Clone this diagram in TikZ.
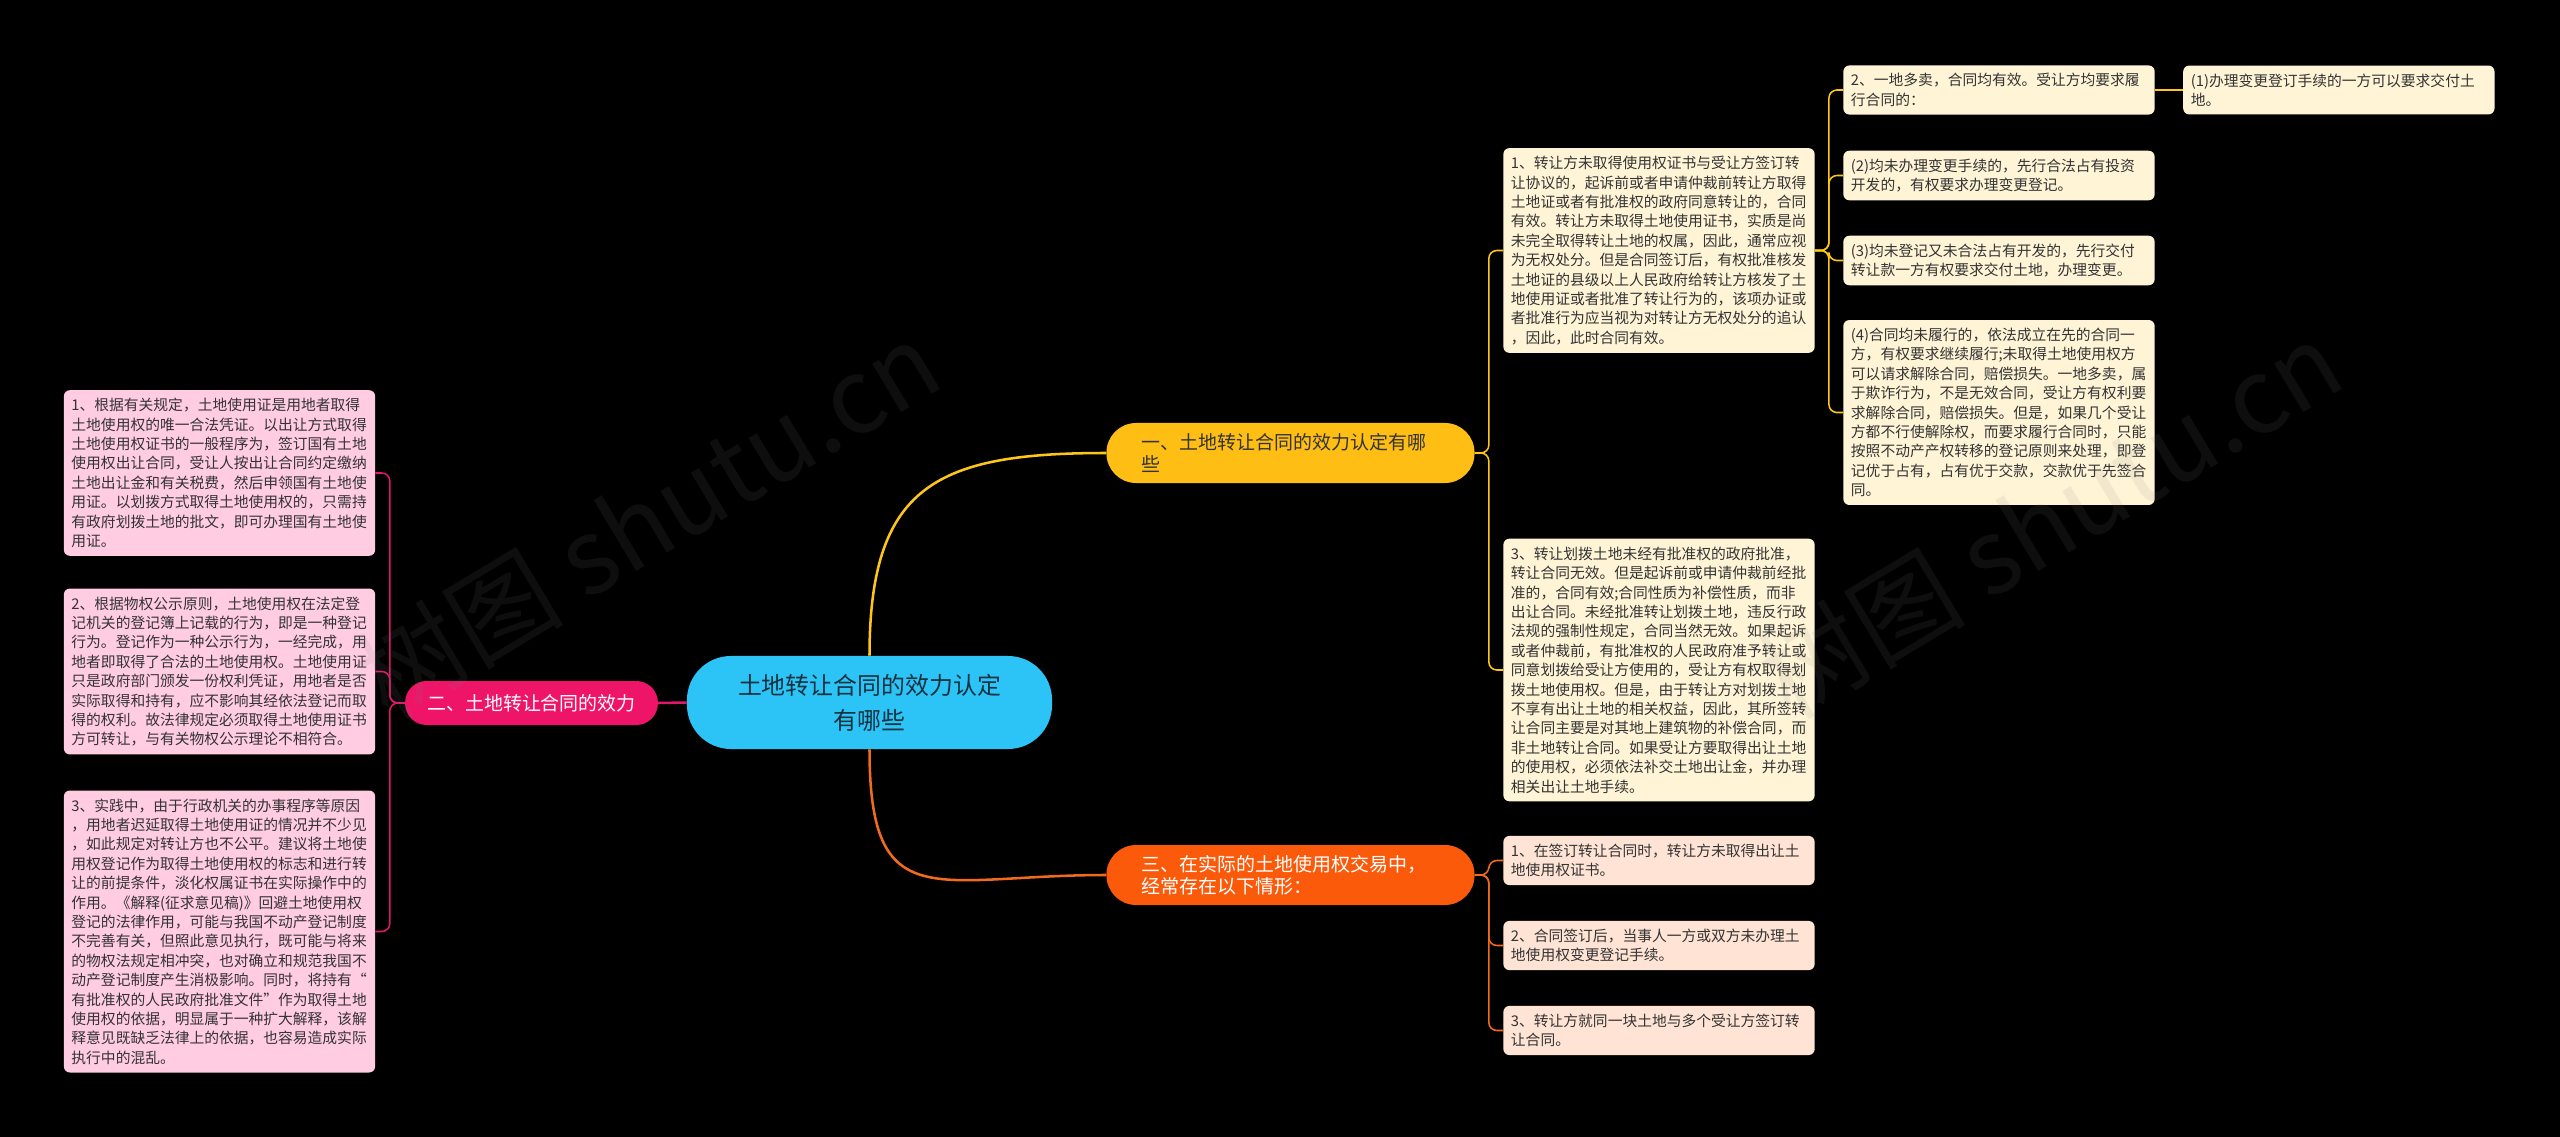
\documentclass[tikz,border=0pt]{standalone}
\usepackage{fontspec}
\setmainfont{Noto Sans CJK SC}
\usepackage{xcolor}
\usepackage{tikz}
\usetikzlibrary{positioning}

\definecolor{rootblue}{HTML}{2CC4F6}
\definecolor{roottext}{HTML}{16323F}
\definecolor{yelbranch}{HTML}{FFBE14}
\definecolor{yelline}{HTML}{FFC61A}
\definecolor{orgbranch}{HTML}{FA5A0A}
\definecolor{orgline}{HTML}{F26A1B}
\definecolor{pinkbranch}{HTML}{EE1568}
\definecolor{pinkline}{HTML}{E0176B}
\definecolor{yelleaf}{HTML}{FFF4D6}
\definecolor{orgleaf}{HTML}{FFE4D5}
\definecolor{pinkleaf}{HTML}{FFCCE2}
\definecolor{leaftext}{HTML}{333333}

\begin{document}
\begin{tikzpicture}[x=0.025cm, y=-0.025cm]
\tikzstyle{leaf} = [rectangle, rounded corners=0.15cm, text width=7.4cm, inner xsep=0.19cm, inner ysep=0.2cm, align=left, font=\fontsize{10.5}{13.8}\selectfont, text=leaftext]
\tikzstyle{branch} = [rectangle, rounded corners=0.74cm, minimum height=1.5cm, text width=7.45cm, inner xsep=0.875cm, align=left, font=\fontsize{13.5}{15.4}\selectfont]
\tikzstyle{trunk} = [line width=1.8pt]
\tikzstyle{link} = [line width=1.1pt, rounded corners=0.2cm]
\tikzstyle{wmark} = [font=\fontsize{74}{80}\selectfont, text=gray, opacity=0.11, rotate=31]

\fill [black] (0,0) rectangle (2560,1137);
\useasboundingbox (0,0) rectangle (2560,1137);

% root and main branches
\node (root) [rectangle, fill=rootblue, rounded corners=1.1cm, minimum width=9.125cm, minimum height=2.325cm, align=center, text=roottext, font=\fontsize{17}{24.8}\selectfont] at (869.5,702.5) {土地转让合同的效力认定\\有哪些};
\node (b1) [branch, fill=yelbranch, text=leaftext] at (1290.5,453) {一、土地转让合同的效力认定有哪\\些};
\node (b3) [branch, fill=orgbranch, text=white] at (1290.5,875) {三、在实际的土地使用权交易中，\\经常存在以下情形：};
\node (b2) [rectangle, fill=pinkbranch, text=white, rounded corners=0.54cm, minimum height=1.1cm, inner xsep=0.55cm, font=\fontsize{13.5}{15.4}\selectfont] at (531.5,703) {二、土地转让合同的效力};

% branch one
\node (a1) [leaf, fill=yelleaf] at (1659,250.5) {1、转让方未取得使用权证书与受让方签订转\\让协议的，起诉前或者申请仲裁前转让方取得\\土地证或者有批准权的政府同意转让的，合同\\有效。转让方未取得土地使用证书，实质是尚\\未完全取得转让土地的权属，因此，通常应视\\为无权处分。但是合同签订后，有权批准核发\\土地证的县级以上人民政府给转让方核发了土\\地使用证或者批准了转让行为的，该项办证或\\者批准行为应当视为对转让方无权处分的追认\\，因此，此时合同有效。};
\node (a2) [leaf, fill=yelleaf] at (1659,670) {3、转让划拨土地未经有批准权的政府批准，\\转让合同无效。但是起诉前或申请仲裁前经批\\准的，合同有效;合同性质为补偿性质，而非\\出让合同。未经批准转让划拨土地，违反行政\\法规的强制性规定，合同当然无效。如果起诉\\或者仲裁前，有批准权的人民政府准予转让或\\同意划拨给受让方使用的，受让方有权取得划\\拨土地使用权。但是，由于转让方对划拨土地\\不享有出让土地的相关权益，因此，其所签转\\让合同主要是对其地上建筑物的补偿合同，而\\非土地转让合同。如果受让方要取得出让土地\\的使用权，必须依法补交土地出让金，并办理\\相关出让土地手续。};
\node (s1) [leaf, fill=yelleaf] at (1999,90) {2、一地多卖，合同均有效。受让方均要求履\\行合同的：};
\node (s11) [leaf, fill=yelleaf, right=0.7cm of s1] {(1)办理变更登订手续的一方可以要求交付土\\地。};
\node (s2) [leaf, fill=yelleaf] at (1999,175.5) {(2)均未办理变更手续的，先行合法占有投资\\开发的，有权要求办理变更登记。};
\node (s3) [leaf, fill=yelleaf] at (1999,260.5) {(3)均未登记又未合法占有开发的，先行交付\\转让款一方有权要求交付土地，办理变更。};
\node (s4) [leaf, fill=yelleaf] at (1999,412.5) {(4)合同均未履行的，依法成立在先的合同一\\方，有权要求继续履行;未取得土地使用权方\\可以请求解除合同，赔偿损失。一地多卖，属\\于欺诈行为，不是无效合同，受让方有权利要\\求解除合同，赔偿损失。但是，如果几个受让\\方都不行使解除权，而要求履行合同时，只能\\按照不动产产权转移的登记原则来处理，即登\\记优于占有，占有优于交款，交款优于先签合\\同。};

% branch three
\node (c1) [leaf, fill=orgleaf] at (1659,860.5) {1、在签订转让合同时，转让方未取得出让土\\地使用权证书。};
\node (c2) [leaf, fill=orgleaf] at (1659,945.5) {2、合同签订后，当事人一方或双方未办理土\\地使用权变更登记手续。};
\node (c3) [leaf, fill=orgleaf] at (1659,1030.5) {3、转让方就同一块土地与多个受让方签订转\\让合同。};

% branch two
\node (p1) [leaf, fill=pinkleaf] at (219.5,473) {1、根据有关规定，土地使用证是用地者取得\\土地使用权的唯一合法凭证。以出让方式取得\\土地使用权证书的一般程序为，签订国有土地\\使用权出让合同，受让人按出让合同约定缴纳\\土地出让金和有关税费，然后申领国有土地使\\用证。以划拨方式取得土地使用权的，只需持\\有政府划拨土地的批文，即可办理国有土地使\\用证。};
\node (p2) [leaf, fill=pinkleaf] at (219.5,671.5) {2、根据物权公示原则，土地使用权在法定登\\记机关的登记簿上记载的行为，即是一种登记\\行为。登记作为一种公示行为，一经完成，用\\地者即取得了合法的土地使用权。土地使用证\\只是政府部门颁发一份权利凭证，用地者是否\\实际取得和持有，应不影响其经依法登记而取\\得的权利。故法律规定必须取得土地使用证书\\方可转让，与有关物权公示理论不相符合。};
\node (p3) [leaf, fill=pinkleaf] at (219.5,931.5) {3、实践中，由于行政机关的办事程序等原因\\，用地者迟延取得土地使用证的情况并不少见\\，如此规定对转让方也不公平。建议将土地使\\用权登记作为取得土地使用权的标志和进行转\\让的前提条件，淡化权属证书在实际操作中的\\作用。《解释(征求意见稿)》回避土地使用权\\登记的法律作用，可能与我国不动产登记制度\\不完善有关，但照此意见执行，既可能与将来\\的物权法规定相冲突，也对确立和规范我国不\\动产登记制度产生消极影响。同时，将持有“\\有批准权的人民政府批准文件”作为取得土地\\使用权的依据，明显属于一种扩大解释，该解\\释意见既缺乏法律上的依据，也容易造成实际\\执行中的混乱。};

% connectors
\draw [trunk, yelline] (root.north) .. controls +(0,-170) and +(-170,0) .. (b1.west);
\draw [trunk, orgline] (root.south) .. controls +(0,170) and +(-170,0) .. (b3.west);
\draw [trunk, pinkline] (root.west) -- (b2.east);

\foreach \n in {a1,a2}
  \draw [link, yelline] (b1.east) -- ++(14,0) |- (\n.west);
\foreach \n in {s1,s2,s3,s4}
  \draw [link, yelline] (a1.east) -- ++(14,0) |- (\n.west);
\draw [link, yelline] (s1.east) -- (s11.west);
\foreach \n in {c1,c2,c3}
  \draw [link, orgline] (b3.east) -- ++(14,0) |- (\n.west);
\foreach \n in {p1,p2,p3}
  \draw [link, pinkline] (b2.west) -- ++(-15,0) |- (\n.east);

% watermarks
\node (wm1) [wmark] at (648,519) {树图 shutu.cn};
\node (wm2) [wmark] at (2050,519) {树图 shutu.cn};

\end{tikzpicture}
\end{document}
